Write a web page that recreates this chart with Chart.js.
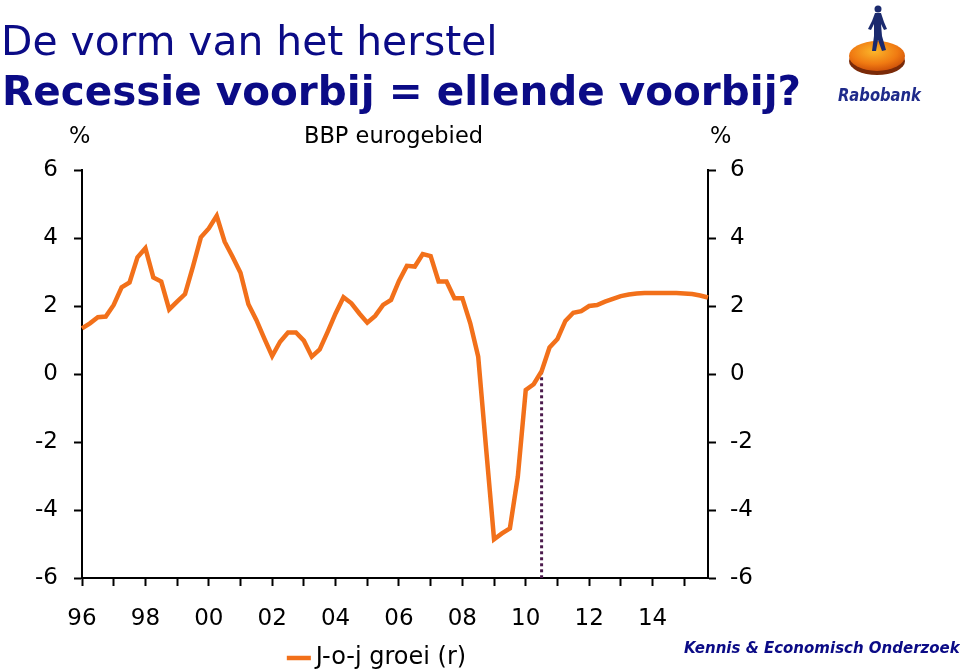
<!DOCTYPE html>
<html>
<head>
<meta charset="utf-8">
<script src="https://cdn.jsdelivr.net/npm/chart.js@4.4.1/dist/chart.umd.min.js"></script>
<style>
  body { margin: 0; width: 960px; height: 670px; background: #fff; position: relative; overflow: hidden; font-family: "DejaVu Sans", sans-serif; }
  #bbp { position: absolute; left: 0; top: 0; }
  .txt { position: absolute; white-space: nowrap; line-height: 1; }
  .navy { color: #0b0b86; }
</style>
</head>
<body>
<canvas id="bbp" width="960" height="670"></canvas>

<div class="txt navy" style="left:1px; top:21px; font-size:40.8px;">De vorm van het herstel</div>
<div class="txt navy" style="left:2px; top:71px; font-size:40.5px; font-weight:bold;">Recessie voorbij = ellende voorbij?</div>

<div class="txt" style="left:69px; top:124px; font-size:22.5px;">%</div>
<div class="txt" style="left:304px; top:124px; font-size:22.5px;">BBP eurogebied</div>
<div class="txt" style="left:710px; top:124px; font-size:22.5px;">%</div>

<div class="txt navy" style="left:684px; top:641px; font-size:15px; font-weight:bold; font-style:italic;">Kennis &amp; Economisch Onderzoek</div>

<!-- Rabobank logo -->
<svg style="position:absolute; left:840px; top:0px;" width="80" height="80" viewBox="0 0 80 80">
  <defs>
    <radialGradient id="disk" cx="0.45" cy="0.35" r="0.7">
      <stop offset="0" stop-color="#fbb62a"/>
      <stop offset="0.6" stop-color="#f07a12"/>
      <stop offset="1" stop-color="#c94a08"/>
    </radialGradient>
  </defs>
  <ellipse cx="37" cy="61" rx="28" ry="14" fill="#7a2a08"/>
  <ellipse cx="37" cy="56" rx="28" ry="15" fill="url(#disk)"/>
  <circle cx="38" cy="9" r="3.5" fill="#1b2a6e"/>
  <path d="M35 13 L41 13 L44 22 L47 29 L44 30 L41 24 L42 36 L46 50 L42 51 L38 40 L36 51 L32 51 L34 36 L34 24 L31 30 L28 29 L32 21 Z" fill="#1b2a6e"/>
</svg>
<div class="txt" style="left:838px; top:86px; font-size:18px; font-weight:bold; font-style:italic; color:#1e2a8a; transform:scaleX(0.82); transform-origin:left top;">Rabobank</div>

<script>
// BBP eurogebied, jaar-op-jaar groei (%), kwartalen 1996K1 - 2015K4
const years = ['96', '97', '98', '99', '00', '01', '02', '03', '04', '05',
               '06', '07', '08', '09', '10', '11', '12', '13', '14', '15'];
const quarters = years.flatMap(y => [y + 'K1', y + 'K2', y + 'K3', y + 'K4']);

const growth = [
  1.34, 1.49, 1.67, 1.69, 2.03, 2.55, 2.69, 3.43, 3.70, 2.84,
  2.72, 1.90, 2.13, 2.35, 3.16, 4.02, 4.28, 4.65, 3.89, 3.45,
  2.98, 2.05, 1.59, 1.05, 0.53, 0.95, 1.22, 1.22, 0.98, 0.51,
  0.72, 1.24, 1.78, 2.26, 2.08, 1.78, 1.51, 1.71, 2.03, 2.18,
  2.74, 3.18, 3.16, 3.53, 3.47, 2.72, 2.72, 2.23, 2.23, 1.49,
  0.51, -2.20, -4.86, -4.69, -4.54, -3.02, -0.47, -0.30, 0.08, 0.78,
  1.03, 1.56, 1.80, 1.85, 2.00, 2.03, 2.13, 2.21, 2.29, 2.34,
  2.37, 2.38, 2.38, 2.38, 2.38, 2.38, 2.37, 2.35, 2.31, 2.25
];

// start van de prognose (2010K3)
const forecastStart = '10K3';

const orange = '#f2701a';
const dotColor = '#4b1a4c';

Chart.defaults.font.family = 'DejaVu Sans';
Chart.defaults.color = '#000';

const yTicks = { stepSize: 2, font: { size: 23 }, color: '#000' };

new Chart(document.getElementById('bbp'), {
  type: 'line',
  data: {
    labels: quarters,
    datasets: [
      {
        label: 'J-o-j groei (r)',
        data: growth,
        yAxisID: 'yR',
        borderColor: orange,
        backgroundColor: orange,
        borderWidth: 4.5,
        pointRadius: 0,
        tension: 0,
        order: 1
      },
      {
        label: 'prognose',
        data: [
          { x: forecastStart, y: growth[quarters.indexOf(forecastStart)] },
          { x: forecastStart, y: -6 }
        ],
        yAxisID: 'yR',
        borderColor: dotColor,
        borderWidth: 3,
        borderDash: [3, 3],
        pointRadius: 0,
        order: 2
      }
    ]
  },
  options: {
    responsive: false,
    animation: false,
    layout: { padding: { left: 0, right: 200, top: 170, bottom: -10 } },
    plugins: {
      tooltip: { enabled: false },
      legend: {
        position: 'bottom',
        labels: {
          filter: item => item.datasetIndex === 0,
          usePointStyle: true,
          pointStyle: 'line',
          boxWidth: 10,
          boxHeight: 17,
          padding: 3,
          font: { size: 24 },
          color: '#000'
        }
      }
    },
    scales: {
      x: {
        offset: false,
        border: { display: true, color: '#000', width: 2 },
        grid: {
          drawOnChartArea: false,
          tickLength: 8,
          tickWidth: 2,
          tickColor: ctx => (ctx.index % 4 === 0 ? '#000' : 'rgba(0,0,0,0)')
        },
        ticks: {
          autoSkip: false,
          maxRotation: 0,
          padding: 19,
          font: { size: 23 },
          color: '#000',
          callback: (value, index) => (index % 8 === 0 ? years[index / 4] : '')
        },
        afterFit: scale => { scale.height = 65; }
      },
      yL: {
        position: 'left',
        min: -6,
        max: 6,
        border: { display: true, color: '#000', width: 2 },
        grid: { drawOnChartArea: false, tickLength: 8, tickWidth: 2, tickColor: '#000' },
        ticks: Object.assign({ padding: 16 }, yTicks),
        afterFit: scale => { scale.width = 82; }
      },
      yR: {
        position: 'right',
        min: -6,
        max: 6,
        border: { display: true, color: '#000', width: 2 },
        grid: { drawOnChartArea: false, tickLength: 8, tickWidth: 2, tickColor: '#000' },
        ticks: Object.assign({ padding: 14 }, yTicks),
        afterFit: scale => { scale.width = 52; }
      }
    }
  }
});
</script>
</body>
</html>
